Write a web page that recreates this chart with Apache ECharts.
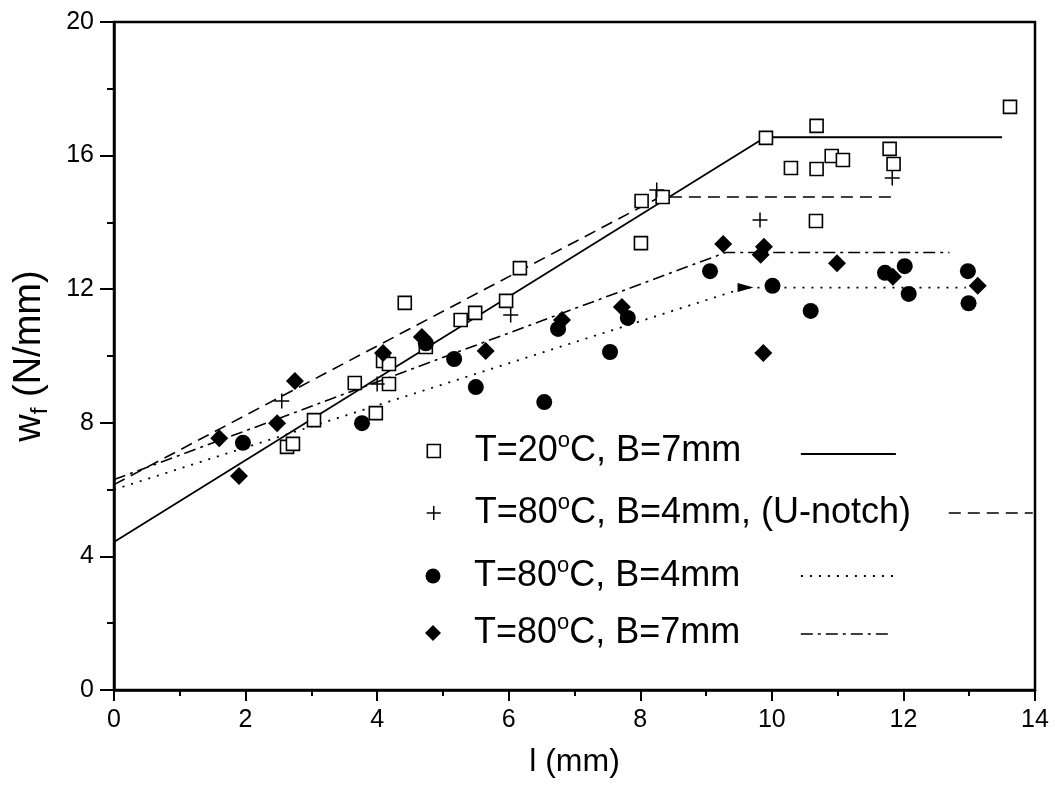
<!DOCTYPE html>
<html><head><meta charset="utf-8">
<script src="https://cdn.jsdelivr.net/npm/echarts@6/dist/echarts.min.js"></script>
<style>html,body{margin:0;padding:0;background:#fff}#c{width:1055px;height:794px}</style>
</head><body><div id="c"></div>
<script>
const FONT = '"Liberation Sans", Arial, Helvetica, sans-serif';

// legend / series names
const names = ['T=20°C, B=7mm', 'T=80°C, B=4mm, (U-notch)', 'T=80°C, B=4mm', 'T=80°C, B=7mm'];
const legendRich = [
  '{g|}{n|T=20}{s|o}{n|C, B=7mm}',
  '{g|}{n|T=80}{s|o}{n|C, B=4mm, (U-notch)}',
  '{g|}{n|T=80}{s|o}{n|C, B=4mm}',
  '{g|}{n|T=80}{s|o}{n|C, B=7mm}'
];

// measured points: [l (mm), w_f (N/mm)]
const sqT20B7 = [
  [2.63,7.28],[2.72,7.37],[3.04,8.08],[3.66,9.19],[3.98,8.29],[4.18,9.16],[4.09,9.85],[4.18,9.76],
  [4.42,11.59],[4.74,10.27],[5.27,11.08],[5.49,11.29],[5.96,11.65],[6.17,12.63],[8.02,14.64],
  [8.01,13.38],[8.34,14.76],[9.91,16.53],[10.68,16.89],[10.29,15.63],[10.68,15.60],[10.91,15.99],
  [11.08,15.87],[11.79,16.20],[11.85,15.75],[10.67,14.04],[13.62,17.46]
];
const plusT80B4U = [
  [2.55,8.65],[4.00,9.16],[6.03,11.23],[8.25,14.97],[9.82,14.07],[11.83,15.33]
];
const circT80B4 = [
  [1.96,7.40],[3.77,7.99],[4.74,10.38],[5.17,9.91],[5.50,9.07],[6.54,8.62],[6.75,10.81],
  [7.81,11.14],[7.54,10.12],[9.06,12.54],[10.01,12.10],[10.59,11.35],[11.72,12.49],
  [12.02,12.69],[12.08,11.86],[12.98,12.54],[12.99,11.58]
];
const diaT80B7 = [
  [1.60,7.54],[1.90,6.41],[2.48,7.99],[2.75,9.25],[4.09,10.09],[4.68,10.57],[5.65,10.15],
  [6.81,11.08],[7.72,11.47],[9.26,13.35],[9.88,13.27],[9.83,13.03],[10.99,12.78],[9.87,10.09],
  [11.84,12.37],[13.13,12.10]
];

// bilinear fit lines
const fitT20B7 = [[0,4.43],[9.9,16.55],[13.5,16.55]];
const fitT80B4U = [[0,6.15],[8.3,14.76],[11.85,14.76]];
const fitT80B4 = [[0,6.0],[9.6,12.05],[12.95,12.05]];
const fitT80B7 = [[0,6.3],[9.3,13.1],[12.7,13.1]];

const xTicks = {min:0, max:14, interval:2};
const yTicks = {min:0, max:20, interval:4};

const PLUS = 'path://M0,5L10,5M5,0L5,10';
const black = '#000';

const scatterDefs = [
  {data: sqT20B7, symbol:'rect', size:13, style:{color:'#fff', borderColor:black, borderWidth:1.6, opacity:1}},
  {data: plusT80B4U, symbol:PLUS, size:15, style:{color:'transparent', borderColor:black, borderWidth:1.5, opacity:1}},
  {data: circT80B4, symbol:'circle', size:16, style:{color:black, borderWidth:0, opacity:1}},
  {data: diaT80B7, symbol:'diamond', size:18, style:{color:black, borderWidth:0, opacity:1}}
];
const lineDefs = [
  {data: fitT20B7, type:'solid', width:1.8},
  {data: fitT80B4U, type:[12,7], width:1.6},
  {data: fitT80B4, type:[2,7], width:1.8},
  {data: fitT80B7, type:[12,5,3,5], width:1.6}
];

// legend layout
const LEG_FS = 36;
const rowY = [451, 513, 576, 633];
const legIcon = [{s:'rect',w:13,h:13},{s:PLUS,w:14,h:14},{s:'circle',w:15,h:15},{s:'diamond',w:16,h:16}];
const lineLeg = [{x:800,w:95,y:454},{x:948,w:84,y:513},{x:800,w:92,y:576},{x:800,w:92,y:634}];

const series = [];
lineDefs.forEach((d, i) => {
  series.push({
    name: 'fit ' + names[i], type:'line', symbol:'none', silent:true, z:2,
    data: d.data.map((p, k) => (i === 2 && k === 1) ?
      {value:p, symbol:'triangle', symbolSize:[9,16], symbolRotate:-90, itemStyle:{color:black}} : p),
    lineStyle:{color:black, width:d.width, type:d.type},
    itemStyle:{color:black}
  });
});
scatterDefs.forEach((d, i) => {
  series.push({
    name: names[i], type:'scatter', symbol:d.symbol, symbolSize:d.size, z:3,
    data: d.data, itemStyle: d.style
  });
});

const legends = [];
names.forEach((n, i) => {
  const ic = legIcon[i];
  legends.push({
    data:[n], left: 433 - ic.w/2, top: rowY[i] - 21, padding:0, itemGap:0,
    itemWidth: ic.w, itemHeight: ic.h, icon: ic.s, selectedMode:false,
    itemStyle: scatterDefs[i].style,
    formatter: () => legendRich[i],
    textStyle: {
      rich: {
        g: {width: 36 - ic.w/2, lineHeight:42},
        n: {fontSize:LEG_FS, fontFamily:FONT, color:black, lineHeight:42},
        s: {fontSize:22, fontFamily:FONT, color:black, lineHeight:28, verticalAlign:'top'}
      }
    }
  });
  const L = lineLeg[i];
  legends.push({
    data:['fit ' + n], left: L.x, top: L.y - 1, padding:0, itemGap:0,
    itemWidth: L.w, itemHeight: 2, selectedMode:false,
    itemStyle:{opacity:0},
    lineStyle:{color:black, width:lineDefs[i].width, type:lineDefs[i].type},
    formatter: () => '',
    textStyle:{fontSize:1}
  });
});

const chart = echarts.init(document.getElementById('c'), null, {renderer:'canvas'});
chart.setOption({
  animation:false,
  backgroundColor:'#fff',
  grid:{left:114, right:20, top:22, bottom:104, show:true, borderColor:black, borderWidth:2.5, backgroundColor:'transparent'},
  xAxis:{
    type:'value', min:xTicks.min, max:xTicks.max, interval:xTicks.interval,
    name:'l (mm)', nameLocation:'middle', nameGap:56,
    nameTextStyle:{fontSize:32, fontFamily:FONT, color:black},
    axisLine:{lineStyle:{color:black, width:2.5}},
    axisTick:{show:true, length:11, lineStyle:{color:black, width:2}},
    minorTick:{show:true, splitNumber:2, length:6, lineStyle:{color:black, width:2}},
    splitLine:{show:false},
    axisLabel:{fontSize:25, fontFamily:FONT, color:black, margin:18}
  },
  yAxis:{
    type:'value', min:yTicks.min, max:yTicks.max, interval:yTicks.interval,
    name:'{n|w}{b|f}{n| (N/mm)}', nameLocation:'middle', nameGap:62, nameRotate:90,
    nameTextStyle:{fontSize:38, fontFamily:FONT, color:black,
      rich:{
        n:{fontSize:38, fontFamily:FONT, color:black, lineHeight:44},
        b:{fontSize:24, fontFamily:FONT, color:black, lineHeight:20, verticalAlign:'bottom'}
      }},
    axisLine:{lineStyle:{color:black, width:2.5}},
    axisTick:{show:true, length:14, lineStyle:{color:black, width:2}},
    minorTick:{show:true, splitNumber:2, length:7, lineStyle:{color:black, width:2}},
    splitLine:{show:false},
    axisLabel:{fontSize:25, fontFamily:FONT, color:black, margin:20}
  },
  legend: legends,
  series: series
});
</script>
</body></html>
